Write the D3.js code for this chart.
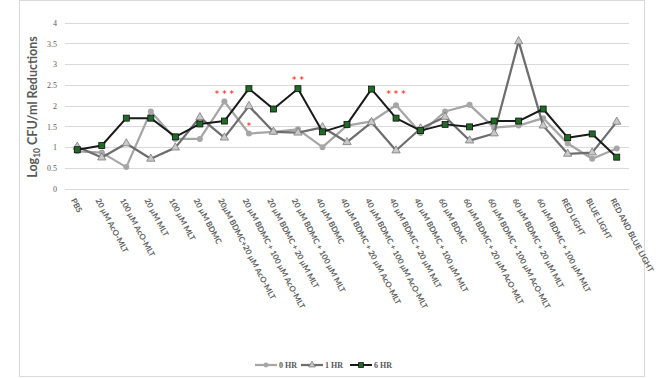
<!DOCTYPE html>
<html><head><meta charset="utf-8">
<script src="https://cdn.jsdelivr.net/npm/d3@7"></script>
<style>body{margin:0;background:#fff}svg{display:block}</style>
</head><body>
<script>
const categories = ["PBS","20 µM AcO-MLT","100 µM AcO-MLT","20 µM MLT","100 µM MLT","20 µM BDMC",
"20µM BDMC+20 µM AcO-MLT","20 µM BDMC + 100 µM AcO-MLT","20 µM BDMC + 20 µM MLT","20 µM BDMC + 100 µM MLT",
"40 µM BDMC","40 µM BDMC + 20 µM AcO-MLT","40 µM BDMC + 100 µM AcO-MLT","40 µM BDMC + 20 µM MLT","40 µM BDMC + 100 µM MLT",
"60 µM BDMC","60 µM BDMC + 20 µM AcO-MLT","60 µM BDMC + 100 µM AcO-MLT","60 µM BDMC + 20 µM MLT","60 µM BDMC + 100 µM MLT",
"RED LIGHT","BLUE LIGHT","RED AND BLUE LIGHT"];
const hr0 = [0.90,0.87,0.52,1.86,1.20,1.20,2.10,1.33,1.37,1.43,1.00,1.52,1.62,2.01,1.34,1.86,2.02,1.47,1.52,1.70,1.09,0.72,0.97];
const hr1 = [1.01,0.75,1.09,0.72,0.99,1.72,1.23,1.99,1.37,1.35,1.48,1.12,1.60,0.92,1.45,1.73,1.16,1.33,3.55,1.52,0.84,0.87,1.61];
const hr6 = [0.94,1.04,1.70,1.70,1.25,1.56,1.63,2.41,1.92,2.41,1.37,1.55,2.40,1.70,1.40,1.55,1.49,1.63,1.63,1.92,1.23,1.32,0.76];
const seriesNames = ["0 HR","1 HR","6 HR"];
const yTicks = [0,0.5,1,1.5,2,2.5,3,3.5,4];
const yTickLabels = ["0","0.5","1","1.5","2","2.5","3","3.5","4"];
const sigIndex = [6,7,9,13];
const sigText = ["* * *","*","* *","* * *"];
const sigLevel = [2.33,1.57,2.67,2.32];

const W=661,H=378;
const svg=d3.select("body").append("svg").attr("width",W).attr("height",H);
svg.append("rect").attr("x",19.5).attr("y",0.5).attr("width",625).attr("height",376).attr("fill","none").attr("stroke","#d9d9d9");

const x=d3.scaleBand().domain(d3.range(categories.length)).range([65,629]);
const y=d3.scaleLinear().domain([0,4]).range([188.7,22.7]);
const cx=i=>x(i)+x.bandwidth()/2;

svg.append("g").selectAll("line").data(yTicks).join("line")
 .attr("x1",65).attr("x2",629).attr("y1",d=>Math.round(y(d))+0.5).attr("y2",d=>Math.round(y(d))+0.5)
 .attr("stroke","#d9d9d9").attr("stroke-width",1);
const yAxis=d3.axisLeft(y).tickValues(yTicks).tickFormat((d,i)=>yTickLabels[i]).tickSize(0).tickPadding(8);
const ga=svg.append("g").attr("transform","translate(65,0)").call(yAxis);
ga.select(".domain").remove();
ga.selectAll("text").attr("font-family","'Liberation Serif',serif").attr("font-size",8).attr("fill","#595959");

const yt=svg.append("text").attr("transform","translate(37,107) rotate(-90)").attr("text-anchor","middle")
 .attr("font-family","Lato,sans-serif").attr("font-size",12.5).attr("font-weight",700).attr("fill","#595959");
yt.append("tspan").text("Log");
yt.append("tspan").attr("font-size",8.5).attr("dy",3).text("10");
yt.append("tspan").attr("dy",-3).text(" CFU/ml Reductions");

svg.append("g").selectAll("text").data(categories).join("text")
 .attr("transform",(d,i)=>`translate(${cx(i)-4},199) rotate(62)`)
 .attr("dy","0.35em").attr("text-anchor","start")
 .attr("font-family","Lato,sans-serif").attr("font-size",8).attr("font-weight",700).attr("fill","#5f5f5f").text(d=>d);

const line=d3.line().x((d,i)=>cx(i)).y(d=>y(d));
const styles=[
 {data:hr0,color:"#a6a6a6",w:2.25,shape:"circle"},
 {data:hr1,color:"#6e6e6e",w:2.25,shape:"tri"},
 {data:hr6,color:"#1a1a1a",w:2,shape:"sq"}];
function marker(g,s,px,py,k){
 k=k||1;
 if(s.shape==="circle") g.append("circle").attr("cx",px).attr("cy",py).attr("r",3*k).attr("fill","#a6a6a6");
 else if(s.shape==="tri") g.append("path").attr("d",d3.symbol(d3.symbolTriangle,30*k*k)()).attr("transform",`translate(${px},${py})`).attr("fill","#c8c8c8").attr("stroke","#7a7a7a").attr("stroke-width",0.8);
 else g.append("rect").attr("x",px-3*k).attr("y",py-3*k).attr("width",6*k).attr("height",6*k).attr("fill","#1f6b26").attr("stroke","#111").attr("stroke-width",0.8);
}
styles.forEach(s=>{
 svg.append("path").datum(s.data).attr("d",line).attr("fill","none").attr("stroke",s.color).attr("stroke-width",s.w).attr("stroke-linejoin","round");
 const g=svg.append("g");
 s.data.forEach((v,i)=>marker(g,s,cx(i),y(v)));
});

svg.append("g").selectAll("text").data(sigIndex).join("text")
 .attr("x",d=>cx(d)).attr("y",(d,i)=>y(sigLevel[i])+5).attr("text-anchor","middle")
 .attr("font-family","'DejaVu Sans',sans-serif").attr("font-size",9).attr("fill","#ff0000").text((d,i)=>sigText[i]);

const lx=[255,301,350];
styles.forEach((s,i)=>{
 const g=svg.append("g");
 g.append("line").attr("x1",lx[i]).attr("x2",lx[i]+22).attr("y1",365).attr("y2",365).attr("stroke",s.color).attr("stroke-width",s.w);
 marker(g,s,lx[i]+11,365,0.8);
 g.append("text").attr("x",lx[i]+24).attr("y",368).attr("font-family","'Liberation Serif',serif").attr("font-size",8).attr("font-weight","bold").attr("fill","#595959").text(seriesNames[i]);
});
</script>
</body></html>
